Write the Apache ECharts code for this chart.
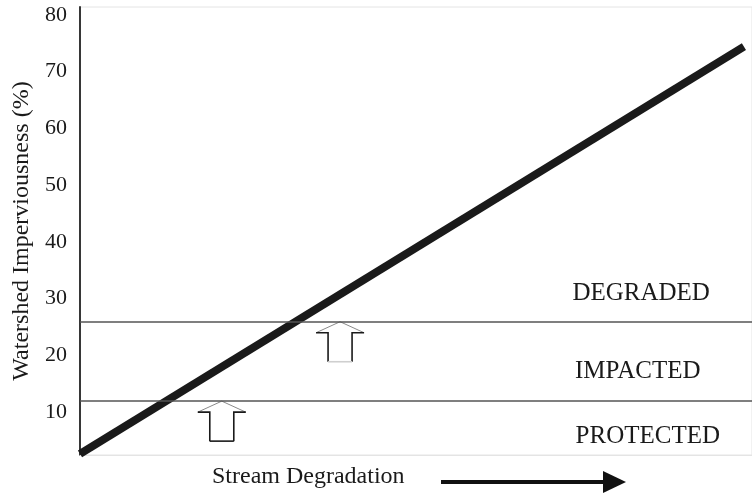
<!DOCTYPE html>
<html>
<head>
<meta charset="utf-8">
<script src="https://cdn.jsdelivr.net/npm/echarts@6/dist/echarts.min.js"></script>
<style>
  html, body { margin: 0; padding: 0; background: #fff; }
  #chart { width: 752px; height: 493px; }
</style>
</head>
<body>
<div id="chart"></div>
<script>
// y tick labels
const yTicks = [10, 20, 30, 40, 50, 60, 70, 80]
// thick degradation line (x is unitless, 0..100)
const lineX = [0, 98.8]
const lineY = [2.6, 74.4]
// zone boundaries
const thresholds = [11.9, 25.9]
// zone names
const zoneNames = ['PROTECTED', 'IMPACTED', 'DEGRADED']
const zoneX = [84.5, 83.0, 83.5]
const zoneY = [5.6, 17.1, 30.9]
// up arrows sitting on the boundaries
const arrowX = [21.1, 38.7]
const arrowY = thresholds

const serif = 'Liberation Serif'
const ink = '#1a1a1a'
const chart = echarts.init(document.getElementById('chart'))

// 上箭头
function renderArrow (params, api) {
  const tip = api.coord([api.value(0), api.value(1)])
  const x = tip[0]
  const y = tip[1]
  const headW = 24
  const headH = 11
  const shaftW = 12
  const shaftH = 40
  const pts = [
    [x, y], [x + headW, y + headH], [x + shaftW, y + headH],
    [x + shaftW, y + shaftH], [x - shaftW, y + shaftH],
    [x - shaftW, y + headH], [x - headW, y + headH]
  ]
  const bottomColor = params.dataIndex === 0 ? ink : '#cfcfcf'
  return {
    type: 'group',
    children: [
      { type: 'polygon', shape: { points: pts }, style: { fill: '#fff', stroke: null } },
      { type: 'polyline', shape: { points: [[x - headW, y + headH], [x, y], [x + headW, y + headH]] }, style: { stroke: '#8a8a8a', lineWidth: 1, fill: null } },
      { type: 'polyline', shape: { points: [[x + headW, y + headH], [x + shaftW, y + headH], [x + shaftW, y + shaftH]] }, style: { stroke: ink, lineWidth: 1.6, fill: null } },
      { type: 'polyline', shape: { points: [[x - headW, y + headH], [x - shaftW, y + headH], [x - shaftW, y + shaftH]] }, style: { stroke: ink, lineWidth: 1.6, fill: null } },
      { type: 'line', shape: { x1: x - shaftW, y1: y + shaftH, x2: x + shaftW, y2: y + shaftH }, style: { stroke: bottomColor, lineWidth: 1.6 } }
    ]
  }
}

chart.setOption({
  animation: false,
  grid: {
    left: 80,
    right: -2,
    top: 7,
    bottom: 38,
    show: true,
    borderColor: '#e4e4e4',
    borderWidth: 1
  },
  xAxis: {
    type: 'value',
    min: 0,
    max: 100,
    axisLine: { show: true, lineStyle: { color: '#e4e4e4', width: 1 } },
    axisTick: { show: false },
    axisLabel: { show: false },
    splitLine: { show: false }
  },
  yAxis: {
    type: 'value',
    min: 2.4,
    max: 81.4,
    name: 'Watershed Imperviousness (%)',
    nameLocation: 'middle',
    nameRotate: 90,
    nameGap: 45,
    nameTextStyle: { fontFamily: serif, fontSize: 24, color: ink },
    axisLine: { show: true, lineStyle: { color: '#222', width: 1.8 } },
    axisTick: { show: false },
    axisLabel: {
      customValues: yTicks,
      margin: 13,
      fontFamily: serif,
      fontSize: 22,
      color: ink
    },
    splitLine: { show: false }
  },
  series: [
    {
      type: 'line',
      data: thresholds.map(v => [0, v]),
      symbol: 'none',
      lineStyle: { opacity: 0 },
      markLine: {
        silent: true,
        symbol: 'none',
        label: { show: false },
        lineStyle: { color: '#555', width: 1.5, type: 'solid' },
        data: thresholds.map(v => ({ yAxis: v }))
      }
    },
    {
      type: 'line',
      data: lineX.map((x, i) => [x, lineY[i]]),
      symbol: 'none',
      clip: false,
      lineStyle: { color: ink, width: 8, cap: 'butt' },
      z: 3
    },
    {
      type: 'custom',
      data: arrowX.map((x, i) => [x, arrowY[i]]),
      renderItem: renderArrow,
      clip: false,
      z: 4
    },
    {
      type: 'scatter',
      symbolSize: 0,
      itemStyle: { opacity: 1 },
      data: zoneNames.map((n, i) => ({ name: n, value: [zoneX[i], zoneY[i]] })),
      label: {
        show: true,
        position: 'inside',
        formatter: '{b}',
        fontFamily: serif,
        fontSize: 25,
        color: ink,
        opacity: 1
      },
      z: 5
    }
  ],
  graphic: [
    {
      type: 'text',
      left: 212,
      top: 465,
      style: { text: 'Stream Degradation', font: '24px "Liberation Serif"', fill: ink }
    },
    {
      type: 'line',
      shape: { x1: 441, y1: 482, x2: 606, y2: 482 },
      style: { stroke: '#111', lineWidth: 4 }
    },
    {
      type: 'polygon',
      shape: { points: [[603, 471], [626, 482], [603, 493]] },
      style: { fill: '#111' }
    }
  ]
})
</script>
</body>
</html>
